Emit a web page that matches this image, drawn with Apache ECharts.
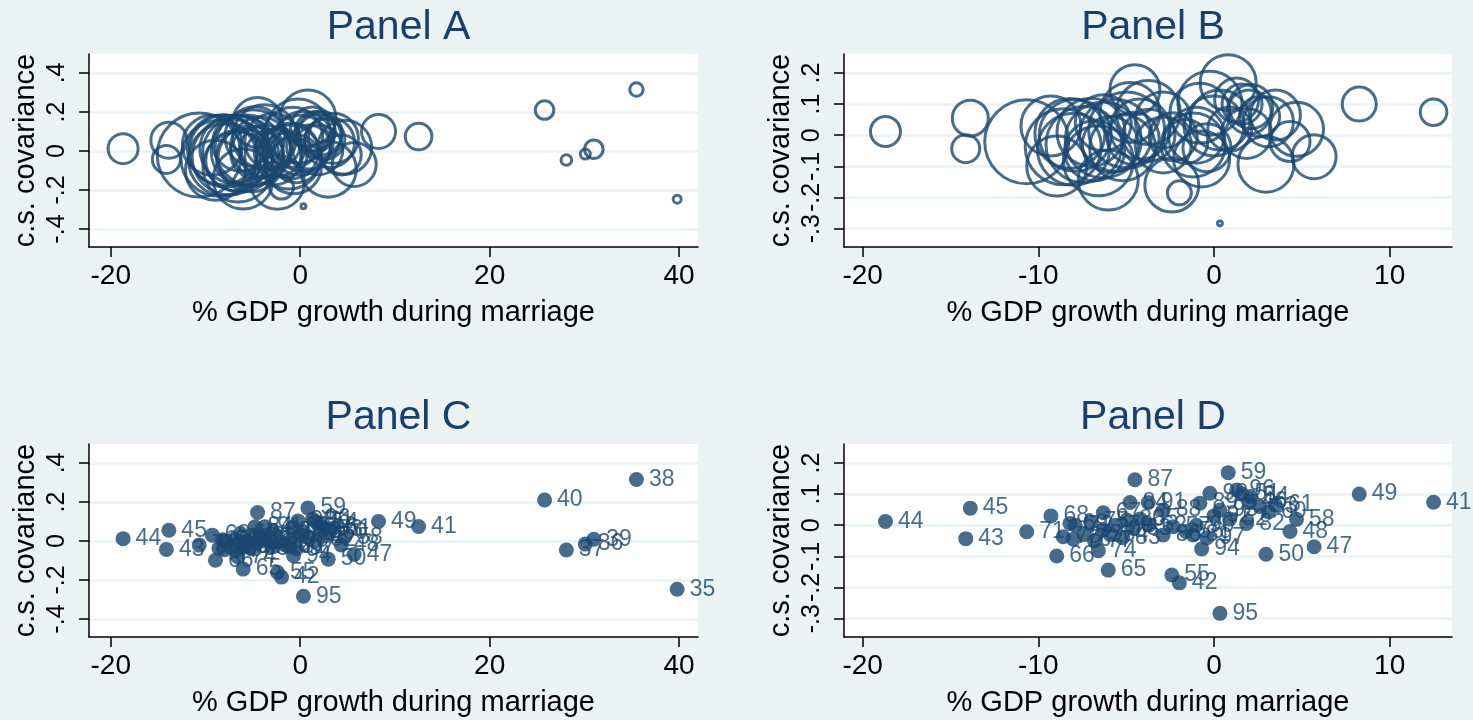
<!DOCTYPE html>
<html>
<head>
<meta charset="utf-8">
<script src="https://cdn.jsdelivr.net/npm/echarts@6/dist/echarts.min.js"></script>
<style>
  html, body { margin: 0; padding: 0; background: #EAF2F3; }
  #chart { width: 1473px; height: 720px; }
</style>
</head>
<body>
<div id="chart"></div>
<script>
// cohort labels, % GDP growth during marriage, c.s. covariance, bubble weight
var labels = [35, 36, 37, 38, 39, 40, 41, 42, 43, 44, 45, 46, 47, 48, 49, 50, 51, 52, 53, 54, 55, 56, 57, 58, 59, 60, 61, 62, 63, 64, 65, 66, 67, 68, 69, 70, 71, 72, 73, 74, 75, 76, 77, 78, 79, 80, 81, 82, 83, 84, 85, 86, 87, 88, 89, 90, 91, 92, 93, 94, 95, 96, 97, 98];
var gdpGrowth = [39.8, 30.1, 28.1, 35.5, 31.0, 25.8, 12.5, -1.97, -14.13, -18.7, -13.87, 2.0, 5.7, 4.33, 8.27, 2.96, 1.6, 0.9, 2.6, 2.1, -2.4, -1.6, -2.32, 4.7, 0.81, 3.1, 3.5, -3.7, -4.6, -5.9, -6.02, -8.95, -6.3, -9.28, -8.2, -6.3, -10.66, -7.9, -7.4, -6.58, -7.0, -8.0, -6.8, -8.58, -5.6, -4.97, -1.18, 1.86, -5.2, -4.78, -4.2, -2.89, -4.5, -2.89, -0.8, -1.0, -3.74, 0.0, 0.34, -0.70, 0.34, 1.29, -0.4, -0.23];
var covariance = [-0.247, -0.016, -0.046, 0.315, 0.009, 0.21, 0.074, -0.185, -0.043, 0.012, 0.055, 0.075, -0.069, -0.02, 0.10, -0.093, 0.1, 0.02, 0.06, 0.092, -0.16, -0.02, -0.005, 0.019, 0.169, 0.043, 0.065, 0.0, -0.01, -0.03, -0.144, -0.099, 0.04, 0.03, 0.006, -0.015, -0.021, 0.0, -0.03, -0.082, 0.01, -0.045, -0.05, -0.037, 0.0, 0.017, -0.031, 0.006, -0.04, 0.073, 0.02, -0.031, 0.146, 0.049, 0.071, 0.0, 0.073, 0.03, 0.049, -0.076, -0.283, 0.113, -0.04, 0.103];
var weights = [0.16, 0.25, 0.28, 0.45, 0.86, 0.86, 1.77, 1.44, 1.96, 2.25, 3.24, 4.84, 4.84, 4.0, 2.89, 7.84, 4.0, 4.84, 4.0, 4.84, 7.29, 4.84, 5.76, 7.29, 7.84, 6.25, 6.25, 6.76, 6.76, 7.84, 9.0, 9.0, 7.84, 9.0, 12.25, 14.44, 17.64, 12.96, 14.44, 12.25, 11.56, 12.96, 9.0, 14.44, 12.96, 14.44, 10.24, 6.25, 10.89, 9.0, 9.0, 7.84, 6.25, 7.84, 9.0, 7.84, 10.24, 9.0, 9.0, 7.84, 0.06, 4.84, 5.76, 10.24];

var panelTitles = ['Panel A', 'Panel B', 'Panel C', 'Panel D'];
var xTicksAll = [-20, 0, 20, 40];
var xTicksSub = [-20, -10, 0, 10];
var yTicksAll = [-0.4, -0.2, 0, 0.2, 0.4];
var yTicksSub = [-0.3, -0.2, -0.1, 0, 0.1, 0.2];
var subsetMaxGrowth = 13;

var navy = '#1a476f';
var font = '"Liberation Sans", Arial, sans-serif';

var allPoints = labels.map(function(l, i) {
  return [gdpGrowth[i], covariance[i], weights[i], String(l)];
});
var subPoints = allPoints.filter(function(p) { return p[0] < subsetMaxGrowth; });

var grids = [
  { left: 89, top: 54, width: 609, height: 193 },
  { left: 844, top: 54, width: 608, height: 193 },
  { left: 89, top: 444, width: 609, height: 193 },
  { left: 844, top: 444, width: 608, height: 193 }
];

function yFmt(v) {
  if (Math.abs(v) < 1e-9) return '0';
  return String(+v.toFixed(2)).replace('0.', '.');
}

function xAxis(i, min, max, ticks) {
  return {
    type: 'value', gridIndex: i, min: min, max: max,
    name: '% GDP growth during marriage', nameLocation: 'middle', nameGap: 51,
    nameTextStyle: { fontSize: 29, color: '#000', fontFamily: font },
    axisLine: { show: true, onZero: false, lineStyle: { color: '#000', width: 1.5 } },
    axisTick: { show: true, length: 10, customValues: ticks, lineStyle: { color: '#000', width: 1.5 } },
    axisLabel: { customValues: ticks, fontSize: 28, color: '#000', fontFamily: font, margin: 15,
      showMinLabel: true, showMaxLabel: true, hideOverlap: false },
    splitLine: { show: false }
  };
}

function yAxis(i, min, max, ticks) {
  return {
    type: 'value', gridIndex: i, min: min, max: max,
    name: 'c.s. covariance', nameLocation: 'middle', nameGap: 49,
    nameTextStyle: { fontSize: 29, color: '#000', fontFamily: font },
    axisLine: { show: true, onZero: false, lineStyle: { color: '#000', width: 1.5 } },
    axisTick: { show: true, length: 10, customValues: ticks, lineStyle: { color: '#000', width: 1.5 } },
    axisLabel: { customValues: ticks, rotate: 90, fontSize: 25, color: '#000', fontFamily: font, margin: 19,
      formatter: yFmt, showMinLabel: true, showMaxLabel: true, hideOverlap: false },
    splitLine: { show: true, lineStyle: { color: '#EAF2F3', width: 2.5 } }
  };
}

function bubbles(i, data) {
  return {
    type: 'scatter', xAxisIndex: i, yAxisIndex: i, data: data, clip: false,
    symbolSize: function(d) { return 20 * Math.sqrt(d[2]); },
    itemStyle: { color: 'rgba(0,0,0,0)', borderColor: navy, borderWidth: 3 },
    emphasis: { disabled: true }
  };
}

function labelled(i, data) {
  return {
    type: 'scatter', xAxisIndex: i, yAxisIndex: i, data: data, clip: false,
    symbolSize: 15,
    itemStyle: { color: navy },
    label: {
      show: true, position: 'right', distance: 5,
      formatter: function(p) { return p.data[3]; },
      fontSize: 23, color: navy, fontFamily: font
    },
    labelLayout: { hideOverlap: false },
    emphasis: { disabled: true }
  };
}

var chart = echarts.init(document.getElementById('chart'));
chart.setOption({
  backgroundColor: '#EAF2F3',
  animation: false,
  title: panelTitles.map(function(t, i) {
    return {
      text: t, left: grids[i].left + grids[i].width / 2, textAlign: 'center',
      top: i < 2 ? 2 : 392,
      textStyle: { fontSize: 41, fontWeight: 'normal', color: '#1a3f6a', fontFamily: font }
    };
  }),
  grid: grids.map(function(g) {
    return Object.assign({ show: true, backgroundColor: '#fff', borderWidth: 0, containLabel: false }, g);
  }),
  xAxis: [
    xAxis(0, -22.3, 42.0, xTicksAll),
    xAxis(1, -21.06, 13.55, xTicksSub),
    xAxis(2, -22.3, 42.0, xTicksAll),
    xAxis(3, -21.06, 13.55, xTicksSub)
  ],
  yAxis: [
    yAxis(0, -0.492, 0.497, yTicksAll),
    yAxis(1, -0.359, 0.261, yTicksSub),
    yAxis(2, -0.492, 0.497, yTicksAll),
    yAxis(3, -0.359, 0.261, yTicksSub)
  ],
  series: [
    bubbles(0, allPoints),
    bubbles(1, subPoints),
    labelled(2, allPoints),
    labelled(3, subPoints)
  ]
});
</script>
</body>
</html>
